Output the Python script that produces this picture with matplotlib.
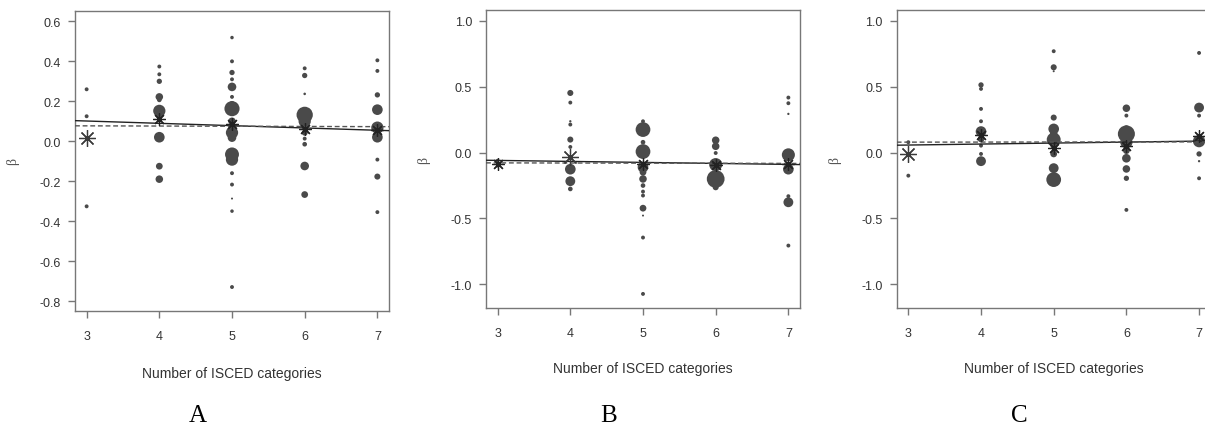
import matplotlib
matplotlib.use("Agg")
import matplotlib.pyplot as plt
import numpy as np

plt.rcParams['font.family'] = ['Liberation Sans', 'DejaVu Sans']
plt.rcParams['axes.unicode_minus'] = False

# ---------------- data ----------------
x_ticks = [3, 4, 5, 6, 7]
x_label = "Number of ISCED categories"
panel_labels = ["A", "B", "C"]

# Panel A: ISCED count, beta estimate, weight (sample-size like)
a_x = [3, 3, 3,
       4, 4, 4, 4, 4, 4, 4, 4, 4, 4, 4,
       5, 5, 5, 5, 5, 5, 5, 5, 5, 5, 5, 5, 5, 5, 5, 5, 5, 5,
       6, 6, 6, 6, 6, 6, 6, 6, 6, 6, 6,
       7, 7, 7, 7, 7, 7, 7, 7, 7, 7]
a_beta = [0.26, 0.125, -0.326,
          0.374, 0.335, 0.30, 0.222, 0.207, 0.152, 0.135, 0.11, 0.02, -0.125, -0.19,
          0.519, 0.40, 0.344, 0.31, 0.272, 0.222, 0.163, 0.10, 0.043, 0.018, -0.066, -0.092,
          -0.16, -0.217, -0.287, -0.35, -0.73, 0.19,
          0.365, 0.329, 0.237, 0.132, 0.10, 0.043, 0.013, -0.015, -0.124, -0.267, 0.075,
          0.405, 0.352, 0.232, 0.158, 0.068, 0.052, 0.02, -0.092, -0.177, -0.355]
a_w = [12, 12, 12,
       12, 12, 20, 36, 16, 81, 36, 16, 64, 30, 36,
       10, 12, 20, 12, 45, 12, 115, 36, 81, 45, 100, 81,
       12, 12, 4, 10, 12, 16,
       12, 20, 6, 130, 81, 25, 12, 16, 45, 30, 30,
       12, 12, 20, 64, 81, 30, 64, 12, 25, 12]
a_star_x = [3, 4, 5, 6, 7]
a_star_beta = [0.015, 0.11, 0.085, 0.06, 0.055]
a_solid = [0.136, -0.0116]   # intercept, slope
a_dashed = [0.080, -0.0010]

# Panel B
b_x = [3, 3,
       4, 4, 4, 4, 4, 4, 4, 4, 4,
       5, 5, 5, 5, 5, 5, 5, 5, 5, 5, 5, 5, 5, 5,
       6, 6, 6, 6, 6, 6,
       7, 7, 7, 7, 7, 7, 7, 7]
b_beta = [-0.06, -0.10,
          0.453, 0.38, 0.238, 0.213, 0.099, 0.043, -0.126, -0.217, -0.276,
          0.238, 0.175, 0.079, 0.008, -0.111, -0.149, -0.20, -0.25, -0.296, -0.326,
          -0.422, -0.478, -0.645, -1.073,
          0.094, 0.048, -0.003, -0.091, -0.20, -0.263,
          0.418, 0.375, 0.294, -0.017, -0.126, -0.331, -0.377, -0.706]
b_w = [10, 10,
       25, 12, 5, 12, 25, 12, 64, 56, 16,
       12, 110, 16, 110, 64, 30, 36, 16, 12, 12,
       30, 4, 12, 12,
       36, 36, 12, 90, 150, 25,
       12, 12, 5, 90, 64, 12, 56, 12]
b_star_x = [3, 4, 5, 6, 7]
b_star_beta = [-0.09, -0.035, -0.086, -0.091, -0.09]
b_solid = [-0.0364, -0.0076]
b_dashed = [-0.075, -0.0010]

# Panel C
c_x = [3, 3,
       4, 4, 4, 4, 4, 4, 4, 4, 4,
       5, 5, 5, 5, 5, 5, 5, 5, 5, 5, 5,
       6, 6, 6, 6, 6, 6, 6, 6, 6, 6,
       7, 7, 7, 7, 7, 7, 7]
c_beta = [0.079, -0.175,
          0.514, 0.484, 0.332, 0.238, 0.16, 0.104, 0.053, -0.01, -0.065,
          0.77, 0.648, 0.618, 0.266, 0.18, 0.142, 0.099, 0.053, -0.01, -0.118, -0.205,
          0.337, 0.281, 0.193, 0.142, 0.079, 0.015, -0.043, -0.124, -0.195, -0.435,
          0.757, 0.342, 0.281, 0.087, -0.01, -0.065, -0.195]
c_w = [12, 12,
       20, 12, 12, 12, 64, 30, 12, 12, 56,
       12, 25, 4, 25, 64, 36, 100, 30, 30, 56, 110,
       36, 12, 12, 140, 81, 30, 45, 36, 20, 12,
       12, 56, 12, 81, 20, 5, 12]
c_star_x = [3, 4, 5, 6, 7]
c_star_beta = [-0.01, 0.13, 0.033, 0.053, 0.129]
c_solid = [0.035, 0.0075]
c_dashed = [0.078, 0.0005]

# ---------------- figure ----------------
W, H = 1205, 431
fig = plt.figure(figsize=(W / 100, H / 100), dpi=100)
fig.patch.set_facecolor("white")

panels = [
    dict(rect=[75, 12, 314, 300], x=a_x, y=a_beta, w=a_w, sx=a_star_x, sy=a_star_beta,
         solid=a_solid, dashed=a_dashed, ylim=(-0.85, 0.652), big_star=0, xlab_y=373,
         yticks=[-0.8, -0.6, -0.4, -0.2, 0.0, 0.2, 0.4, 0.6], fmt="{:.1f}"),
    dict(rect=[486, 11, 314, 298], x=b_x, y=b_beta, w=b_w, sx=b_star_x, sy=b_star_beta,
         solid=b_solid, dashed=b_dashed, ylim=(-1.18, 1.083), big_star=1, xlab_y=368,
         yticks=[-1.0, -0.5, 0.0, 0.5, 1.0], fmt="{:.1f}"),
    dict(rect=[896.7, 11, 314, 298], x=c_x, y=c_beta, w=c_w, sx=c_star_x, sy=c_star_beta,
         solid=c_solid, dashed=c_dashed, ylim=(-1.18, 1.083), big_star=0, xlab_y=368,
         yticks=[-1.0, -0.5, 0.0, 0.5, 1.0], fmt="{:.1f}"),
]

axis_col = "#777777"
text_col = "#333333"
pt_col = "#4a4a4a"

for p, letter in zip(panels, panel_labels):
    l, t, w, h = p["rect"]
    ax = fig.add_axes([l / W, 1 - (t + h) / H, w / W, h / H])
    ax.set_xlim(2.84, 7.16)
    ax.set_ylim(*p["ylim"])

    sizes = 0.4 * np.asarray(p["w"], dtype=float) ** 1.2
    ax.scatter(p["x"], p["y"], s=sizes, color=pt_col, edgecolors="none", zorder=2)
    ax.axline((0, p["solid"][0]), slope=p["solid"][1], color="#222222", lw=1.0, zorder=3)
    ax.axline((0, p["dashed"][0]), slope=p["dashed"][1], color="#555555", lw=1.0,
              ls=(0, (3.5, 2)), zorder=3)
    k = p["big_star"]
    others = [i for i in range(len(p["sx"])) if i != k]
    ax.plot([p["sx"][i] for i in others], [p["sy"][i] for i in others], ls="none",
            marker=(8, 2, 0), markersize=9, markeredgewidth=0.9, color="#222222", zorder=4)
    ax.plot([p["sx"][k]], [p["sy"][k]], ls="none", marker=(8, 2, 0), markersize=12,
            markeredgewidth=0.9, color="#3a3a3a", zorder=4)

    ax.set_xticks(x_ticks)
    ax.set_xticklabels([str(v) for v in x_ticks])
    ax.set_yticks(p["yticks"])
    ax.set_yticklabels([p["fmt"].format(v) for v in p["yticks"]])
    for sp in ax.spines.values():
        sp.set_color(axis_col)
        sp.set_linewidth(1.0)
    ax.tick_params(axis="both", direction="out", length=5, width=1.0, color=axis_col,
                   labelcolor=text_col, labelsize=9)
    ax.tick_params(axis="x", pad=9)
    ax.tick_params(axis="y", pad=5)

    ax.set_xlabel(x_label, fontsize=10, color=text_col)
    ax.xaxis.set_label_coords(0.5, -(p["xlab_y"] - 6 - (t + h)) / h)
    ax.set_ylabel("β", fontsize=10, color="#555555", family=["Liberation Serif", "DejaVu Serif"])
    ax.yaxis.set_label_coords(-56 / w, 0.5)

    ax.text(0.5 - 34 / w, -(416 - (t + h)) / h, letter, transform=ax.transAxes,
            ha="center", va="center", fontsize=18, color="black",
            family=["Liberation Serif", "DejaVu Serif"])

fig.savefig("out.png", dpi=100, facecolor="white")
